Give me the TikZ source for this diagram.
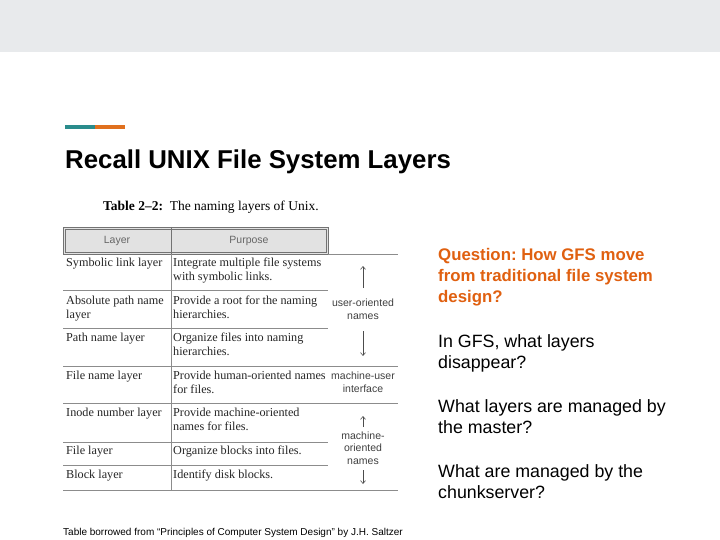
\documentclass[tikz,border=0pt]{standalone}
\usepackage{fontspec}
\usetikzlibrary{arrows.meta}
\setmainfont{Liberation Sans}
\newfontfamily\tserif{Liberation Serif}
\definecolor{topbar}{HTML}{E8EAEC}
\definecolor{teal}{HTML}{2A8C8C}
\definecolor{orng}{HTML}{E0701E}
\definecolor{qcol}{HTML}{E06010}
\definecolor{hdr}{HTML}{E2E2E2}
\frenchspacing
\begin{document}
\begin{tikzpicture}[x=1pt,y=-1pt,
  cell/.style={anchor=north west,inner sep=0pt,align=left,font=\tserif\fontsize{12.2}{14}\selectfont,text=black!85},
  side/.style={align=center,inner sep=0pt,font=\fontsize{10.5}{12.5}\selectfont,text=black!75},
  rt/.style={anchor=north west,inner sep=0pt,align=left,font=\fontsize{17.8}{21}\selectfont},
  tl/.style={draw=black!45,line width=0.6pt},
  arr/.style={-{Straight Barb[length=3pt,width=5pt]},black!70,line width=0.6pt}]
\useasboundingbox (0,0) rectangle (720,540);
\fill[white] (0,0) rectangle (720,540);
\fill[topbar] (0,0) rectangle (720,52);
\fill[teal] (65,125.5) rectangle (95,129);
\fill[orng] (95,125.5) rectangle (125,129);
\node[anchor=west,inner sep=0pt,font=\bfseries\fontsize{25.8}{30}\selectfont] (title) at (65,162) {Recall UNIX File System Layers};
\node[anchor=west,inner sep=0pt,font=\tserif\fontsize{13.5}{15}\selectfont] (cap) at (103,207) {\textbf{Table 2\textendash2:}\ \ The naming layers of Unix.};
% header
\fill[hdr] (63,227) rectangle (328,254);
\draw[black!55,line width=0.6pt] (63,227) rectangle (328,254);
\draw[black!55,line width=0.6pt] (65,229) rectangle (326,252);
\draw[black!55,line width=0.8pt] (171,227) -- (171,254);
\node[font=\fontsize{10.5}{12}\selectfont,text=black!60] (hl) at (117,240.5) {Layer};
\node[font=\fontsize{10.5}{12}\selectfont,text=black!60] (hp) at (249,240.5) {Purpose};
% lines
\draw[tl] (328,254) -- (398,254);
\draw[tl] (171,254) -- (171,490);
\foreach \y in {290,328,442,465} \draw[tl] (63,\y) -- (328,\y);
\foreach \y in {366,403,490} \draw[tl] (63,\y) -- (398,\y);
% cells
\node[cell] (c1) at (66,258) {Symbolic link layer};
\node[cell] (p1) at (173,258) {Integrate multiple file systems\\with symbolic links.};
\node[cell] (c2) at (66,296) {Absolute path name\\layer};
\node[cell] (p2) at (173,296) {Provide a root for the naming\\hierarchies.};
\node[cell] (c3) at (66,333) {Path name layer};
\node[cell] (p3) at (173,333) {Organize files into naming\\hierarchies.};
\node[cell] (c4) at (66,371) {File name layer};
\node[cell] (p4) at (173,371) {Provide human-oriented names\\for files.};
\node[cell] (c5) at (66,408) {Inode number layer};
\node[cell] (p5) at (173,408) {Provide machine-oriented\\names for files.};
\node[cell] (c6) at (66,446) {File layer};
\node[cell] (p6) at (173,446) {Organize blocks into files.};
\node[cell] (c7) at (66,470) {Block layer};
\node[cell] (p7) at (173,470) {Identify disk blocks.};
% side labels
\coordinate (a1s) at (363,288); \coordinate (a1e) at (363,266);
\draw[arr] (a1s) -- (a1e);
\node[side] (uo) at (363,309) {user-oriented\\names};
\coordinate (a2s) at (363,331); \coordinate (a2e) at (363,356);
\draw[arr] (a2s) -- (a2e);
\node[side] (mu) at (363,382) {machine-user\\interface};
\coordinate (a3s) at (363,427); \coordinate (a3e) at (363,416);
\draw[arr] (a3s) -- (a3e);
\node[side] (mo) at (363,448) {machine-\\oriented\\names};
\coordinate (a4s) at (363,470); \coordinate (a4e) at (363,484);
\draw[arr] (a4s) -- (a4e);
% right text
\node[rt,text=qcol,font=\bfseries\fontsize{16.8}{21}\selectfont] (q) at (438,248) {Question: How GFS move\\from traditional file system\\design?};
\node[rt] (q1) at (438,334) {In GFS, what layers\\disappear?};
\node[rt] (q2) at (438,399) {What layers are managed by\\the master?};
\node[rt] (q3) at (438,464) {What are managed by the\\chunkserver?};
\node[anchor=west,inner sep=0pt,font=\fontsize{10}{12}\selectfont] (foot) at (63,533) {Table borrowed from ``Principles of Computer System Design'' by J.H. Saltzer};
\end{tikzpicture}
\end{document}
